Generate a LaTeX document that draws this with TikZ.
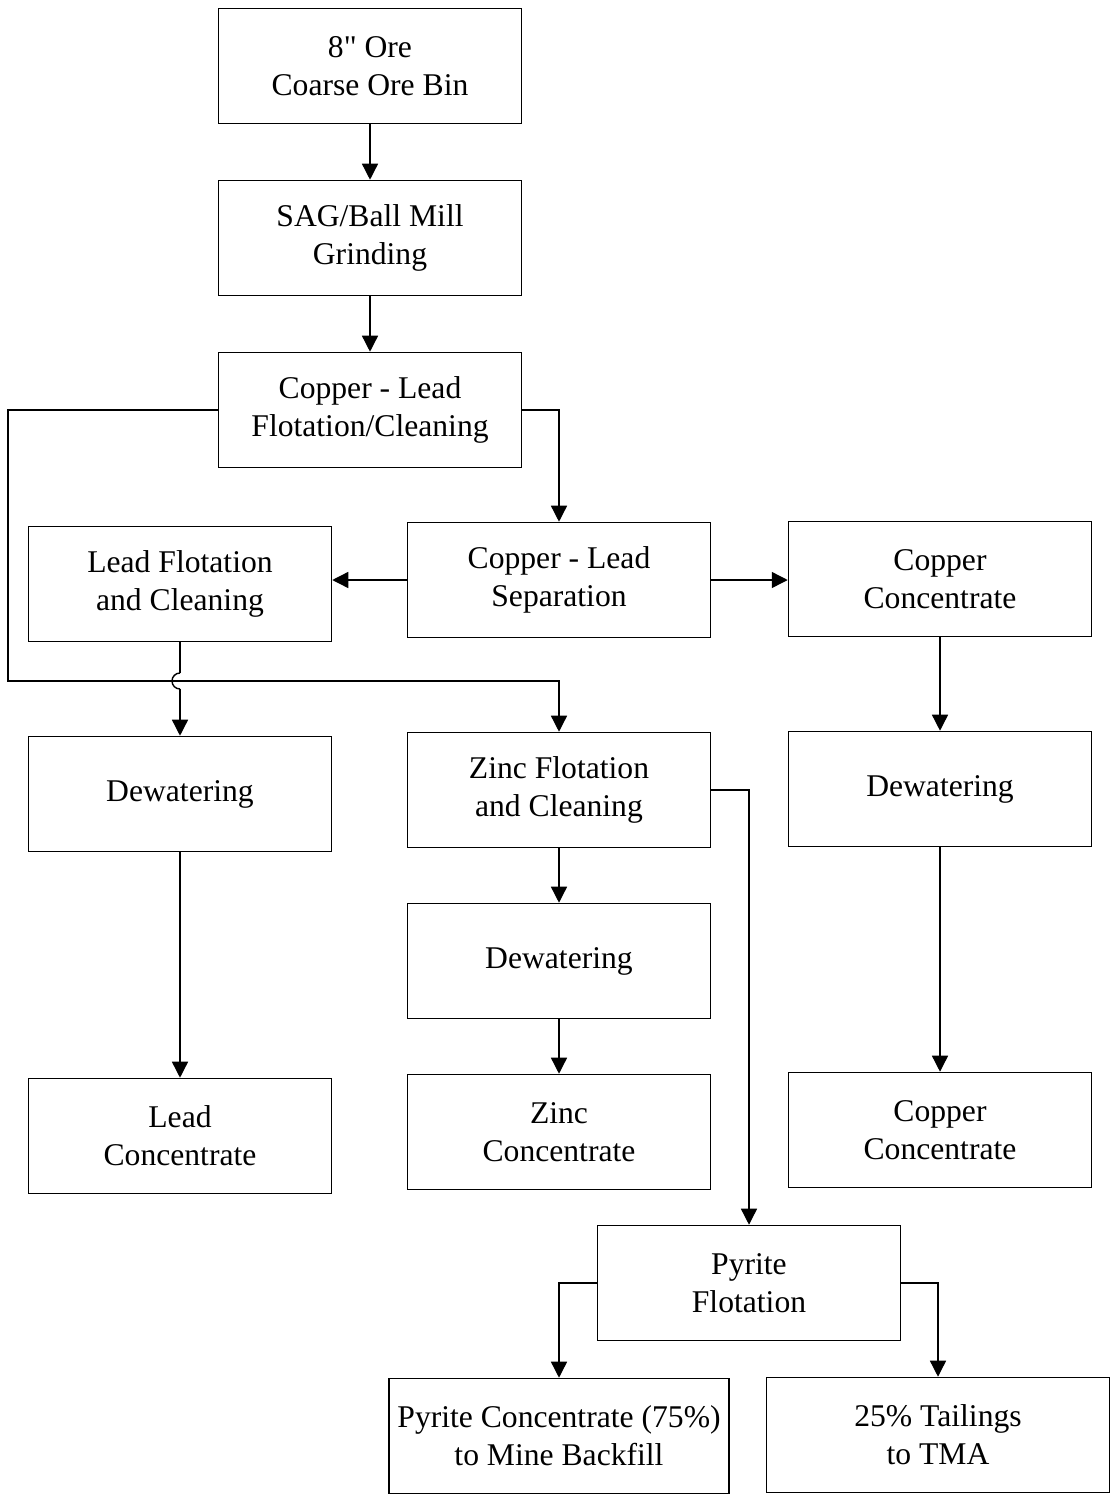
\documentclass[tikz,border=0pt]{standalone}
\usepackage{fontspec}
\setmainfont{Liberation Serif}[Ligatures=TeXOff]
\usetikzlibrary{arrows.meta}
\tikzstyle{procbox}=[
    draw, rectangle,
    line width=0.9pt,
    align=center,
    minimum width=6.06cm,
    minimum height=2.3cm,
    font=\fontsize{18}{21.6}\selectfont,
]
\tikzstyle{flow}=[
    line width=0.8pt,
    ->, >={Triangle[length=0.32cm,width=0.32cm]},
]

\begin{document}
\begin{tikzpicture}[x=0.02cm, y=0.02cm]
        \useasboundingbox (0,0) rectangle (1110,-1494);
        % main line
        \node (ore) at (370,-66) [procbox] {8" Ore\\Coarse Ore Bin};
        \node (sag) at (370,-238) [procbox] {SAG/Ball Mill\\Grinding};
        \node (cupbflot) at (370,-410) [procbox] {Copper - Lead\\Flotation/Cleaning};
        \node (leadflot) at (180,-584) [procbox] {Lead Flotation\\and Cleaning};
        \node (cupbsep) at (559,-580) [procbox] {Copper - Lead\\Separation};
        \node (cuconcA) at (940,-579) [procbox] {Copper\\Concentrate};
        \node (dewlead) at (180,-794) [procbox] {Dewatering};
        \node (znflot) at (559,-790) [procbox] {Zinc Flotation\\and Cleaning};
        \node (dewcu) at (940,-789) [procbox] {Dewatering};
        \node (dewzn) at (559,-961) [procbox] {Dewatering};
        \node (leadconc) at (180,-1136) [procbox] {Lead\\Concentrate};
        \node (znconc) at (559,-1132) [procbox] {Zinc\\Concentrate};
        \node (cuconcB) at (940,-1130) [procbox] {Copper\\Concentrate};
        \node (pyflot) at (749,-1283) [procbox] {Pyrite\\Flotation};
        \node (pyconc) at (559,-1436) [procbox, minimum width=6.8cm] {Pyrite Concentrate (75\%)\\to Mine Backfill};
        \node (tails) at (938,-1435) [procbox, minimum width=6.86cm] {25\% Tailings\\to TMA};
        % connectors
        \coordinate (bus) at (8,-681);
        \coordinate (hop) at (leadflot.south |- bus);
        \draw[flow] (ore) -- (sag);
        \draw[flow] (sag) -- (cupbflot);
        \draw[flow] (cupbflot.east) -| (cupbsep.north);
        \draw[flow] (cupbflot.west) -| (bus) -| (znflot.north);
        \draw[line width=0.8pt] (leadflot.south) -- ([yshift=0.16cm]hop);
        \draw[line width=0.8pt] ([yshift=0.16cm]hop)
            arc[start angle=90, end angle=270, radius=0.16cm];
        \draw[flow] ([yshift=-0.16cm]hop) -- (dewlead.north);
        \draw[flow] (cupbsep.west) -- (cupbsep.west -| leadflot.east);
        \draw[flow] (cupbsep.east) -- (cupbsep.east -| cuconcA.west);
        \draw[flow] (cuconcA) -- (dewcu);
        \draw[flow] (dewcu) -- (cuconcB);
        \draw[flow] (dewlead) -- (leadconc);
        \draw[flow] (znflot) -- (dewzn);
        \draw[flow] (dewzn) -- (znconc);
        \draw[flow] (znflot.east) -| (pyflot.north);
        \draw[flow] (pyflot.west) -| (pyconc.north);
        \draw[flow] (pyflot.east) -| (tails.north);
    \end{tikzpicture}
\end{document}
